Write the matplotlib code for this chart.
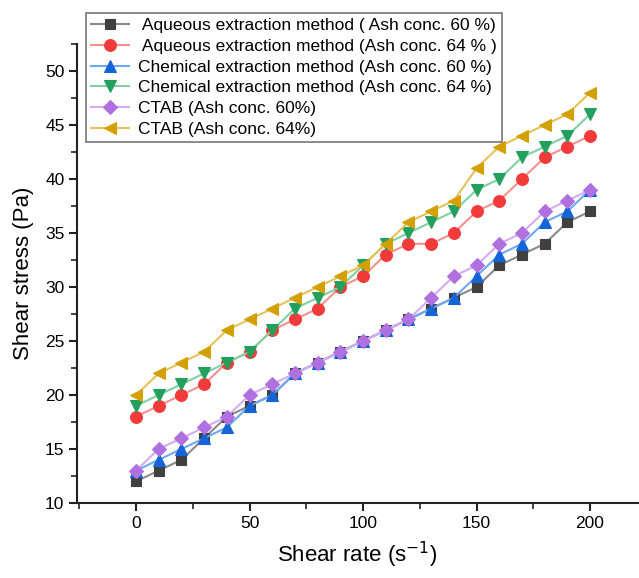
import matplotlib
matplotlib.use("Agg")
import matplotlib.pyplot as plt
from matplotlib.ticker import MultipleLocator

plt.rcParams['font.family'] = ['Liberation Sans', 'DejaVu Sans']

shear_rate = [0, 10, 20, 30, 40, 50, 60, 70, 80, 90, 100,
              110, 120, 130, 140, 150, 160, 170, 180, 190, 200]

aq60 = [12, 13, 14, 16, 18, 19, 20, 22, 23, 24, 25, 26, 27, 28, 29, 30, 32, 33, 34, 36, 37]
aq64 = [18, 19, 20, 21, 23, 24, 26, 27, 28, 30, 31, 33, 34, 34, 35, 37, 38, 40, 42, 43, 44]
ch60 = [13, 14, 15, 16, 17, 19, 20, 22, 23, 24, 25, 26, 27, 28, 29, 31, 33, 34, 36, 37, 39]
ch64 = [19, 20, 21, 22, 23, 24, 26, 28, 29, 30, 32, 34, 35, 36, 37, 39, 40, 42, 43, 44, 46]
ctab60 = [13, 15, 16, 17, 18, 20, 21, 22, 23, 24, 25, 26, 27, 29, 31, 32, 34, 35, 37, 38, 39]
ctab64 = [20, 22, 23, 24, 26, 27, 28, 29, 30, 31, 32, 34, 36, 37, 38, 41, 43, 44, 45, 46, 48]

labels = [" Aqueous extraction method ( Ash conc. 60 %)",
          " Aqueous extraction method (Ash conc. 64 % )",
          "Chemical extraction method (Ash conc. 60 %)",
          "Chemical extraction method (Ash conc. 64 %)",
          "CTAB (Ash conc. 60%)",
          "CTAB (Ash conc. 64%)"]

series = [aq60, aq64, ch60, ch64, ctab60, ctab64]
markers = ['s', 'o', '^', 'v', 'D', '<']
mcolors = ['#404040', '#F23A3A', '#1565D8', '#23A05E', '#B070E0', '#D4A000']
lcolors = ['#8A8A8A', '#F59090', '#6FA8F0', '#80D0A4', '#D6AAF5', '#E6C25A']
msizes = [7.5, 8.5, 8.5, 8.5, 7.5, 8.5]

fig = plt.figure(figsize=(6.39, 5.78), dpi=100)
ax = fig.add_axes([77/639, 1 - 503/578, 1 - 77/639 - 0.002, (503 - 44)/578])

for y, m, mc, lc, ms, lab in zip(series, markers, mcolors, lcolors, msizes, labels):
    ax.plot(shear_rate, y, color=lc, lw=1.5, marker=m, markersize=ms,
            markerfacecolor=mc, markeredgecolor=mc, markeredgewidth=0.8, label=lab)

ax.set_xlim(-26, 221)
ax.set_ylim(10, 52.5)
ax.xaxis.set_major_locator(MultipleLocator(50))
ax.xaxis.set_minor_locator(MultipleLocator(25))
ax.yaxis.set_major_locator(MultipleLocator(5))
ax.yaxis.set_minor_locator(MultipleLocator(2.5))

for s in ['top', 'right']:
    ax.spines[s].set_visible(False)
for s in ['left', 'bottom']:
    ax.spines[s].set_linewidth(1.5)
    ax.spines[s].set_color('#222222')

ax.tick_params(which='major', direction='out', length=6, width=1.5, labelsize=12.5,
               color='#222222', pad=3)
ax.tick_params(which='minor', direction='out', length=4, width=1.2, color='#222222')

ax.set_xlabel("Shear rate (s$^{-1}$)", fontsize=16, labelpad=7)
ax.set_ylabel("Shear stress (Pa)", fontsize=16, labelpad=8)

leg = ax.legend(loc='upper left', bbox_to_anchor=(86/639, 1 - 13/578),
                bbox_transform=fig.transFigure, fontsize=12.5, frameon=True,
                fancybox=False, edgecolor='#555555', borderaxespad=0,
                handlelength=2.2, labelspacing=0.32, handletextpad=0.5,
                borderpad=0.3)
leg.get_frame().set_linewidth(1.2)

fig.savefig("out.png", dpi=100)
